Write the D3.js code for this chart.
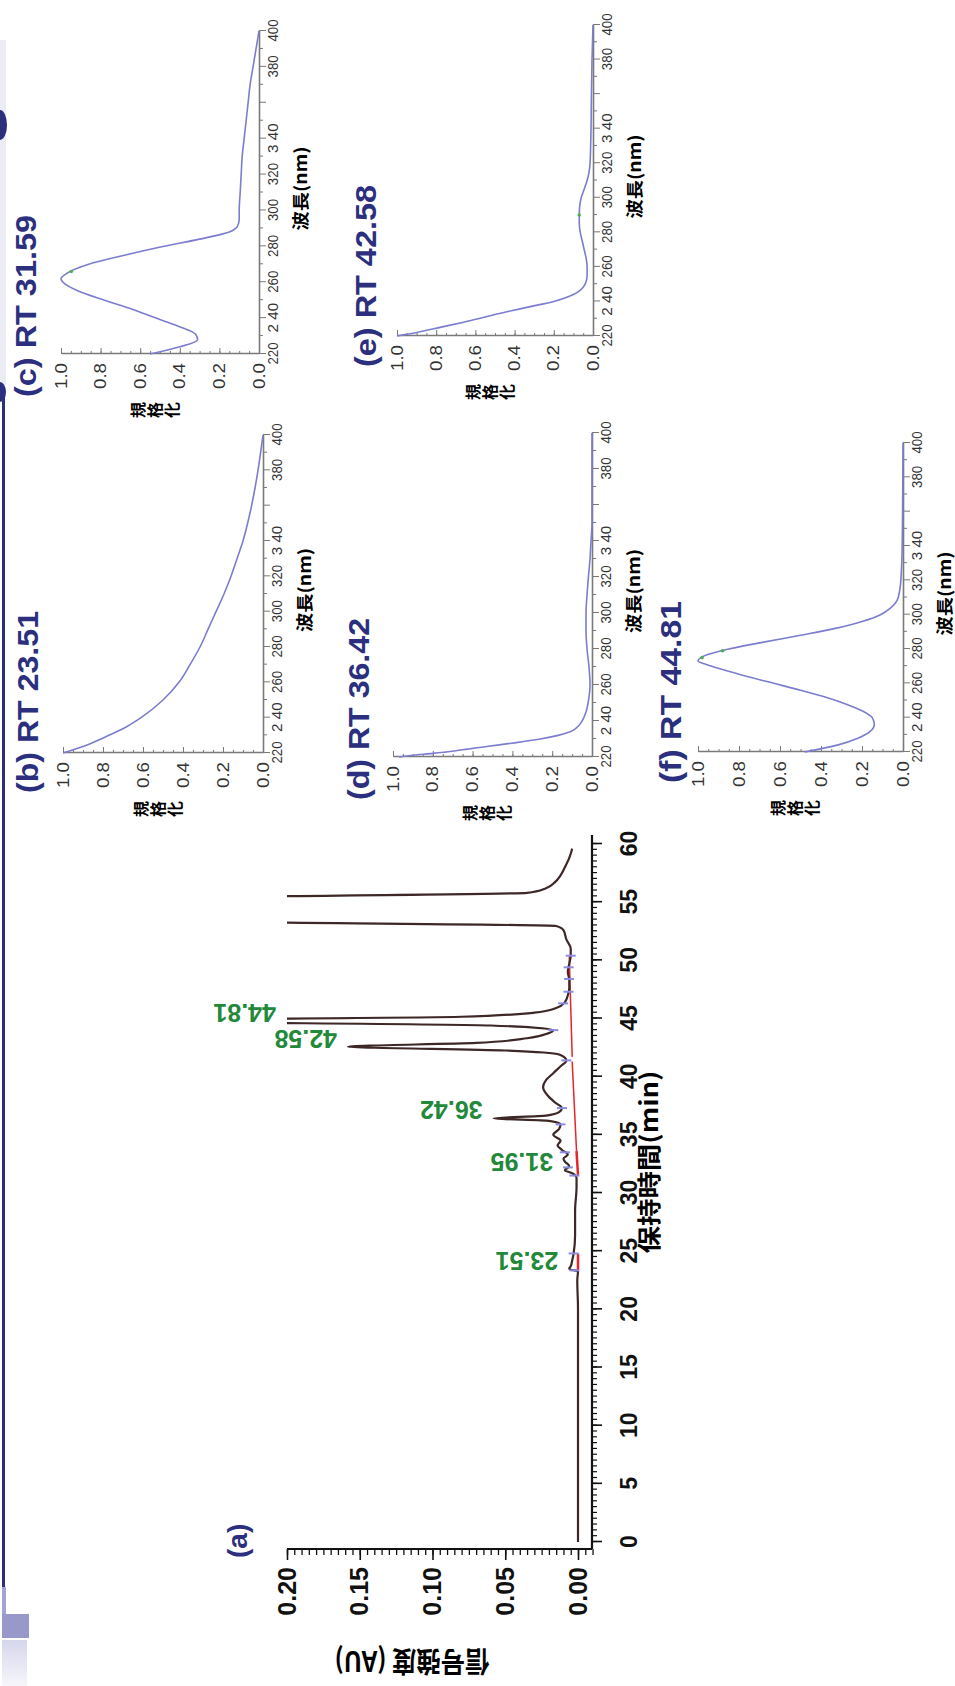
<!DOCTYPE html>
<html>
<head>
<meta charset="utf-8">
<script src="https://cdn.jsdelivr.net/npm/d3@7"></script>
<style>
body { margin: 0; background: #fff; }
svg { display: block; }
</style>
</head>
<body>
<svg id="fig" width="955" height="1686"></svg>
<script>
// chromatogram (a): retention time (min) and signal (AU)
var chromTime = [0, 5, 10, 15, 20, 22.5, 23.3, 23.4, 23.51, 23.7, 24.2, 24.8, 26.4, 28.5, 30.5, 31.3, 31.7, 31.95, 32.3, 32.7, 32.95, 33.3, 33.7, 34.1, 34.5, 35.0, 35.5, 35.9, 36.2, 36.42, 36.65, 36.95, 37.3, 37.8, 38.4, 39.1, 39.7, 40.3, 40.9, 41.4, 41.9, 42.25, 42.58, 42.9, 43.3, 43.7, 44.0, 44.4, 44.81, 45.15, 45.5, 45.9, 46.4, 47.0, 47.6, 48.3, 49.0, 49.7, 50.4, 51.0, 51.8, 52.6, 52.95, 53.3, 54.4, 55.45, 55.8, 56.2, 56.7, 57.3, 58.0, 58.8, 59.6];
var chromAU = [0, 0, 0, 0, 0, 0.0005, 0, 0.005, 0.006, 0.005, 0.004, 0.003, 0.002, 0.002, 0.001, 0.001, 0.004, 0.009, 0.006, 0.009, 0.010, 0.007, 0.011, 0.014, 0.012, 0.017, 0.013, 0.012, 0.020, 0.058, 0.022, 0.013, 0.011, 0.016, 0.021, 0.024, 0.022, 0.017, 0.012, 0.008, 0.013, 0.05, 0.158, 0.07, 0.035, 0.021, 0.017, 0.06, 0.32, 0.08, 0.03, 0.015, 0.009, 0.007, 0.006, 0.006, 0.007, 0.006, 0.005, 0.005, 0.008, 0.010, 0.015, 0.25, 0.9, 0.25, 0.035, 0.022, 0.016, 0.012, 0.009, 0.006, 0.004];

// labelled peaks
var peakTimes = [23.51, 31.95, 36.42, 42.58, 44.81];
var peakTops = [0.006, 0.0095, 0.058, 0.158, 0.2];
var peakNames = ["23.51", "31.95", "36.42", "42.58", "44.81"];

// integration marks
var markTimes = [23.35, 24.8, 31.5, 32.2, 33.5, 35.9, 37.3, 41.4, 44.0, 46.3, 47.3, 48.4, 49.4, 50.4];
var baseStart = [23.35, 31.5, 33.6, 41.7];
var baseEnd = [24.8, 33.6, 41.3, 50.3];
var baseStartAU = [0, 0, 0.001, 0.004];
var baseEndAU = [0, 0.001, 0.004, 0.006];

var timeTicks = d3.range(0, 61, 5);
var auTicks = [0, 0.05, 0.10, 0.15, 0.20];

// UV spectra (normalised) for the five peaks
var wlB = [220, 225, 230, 235, 240, 250, 260, 270, 280, 290, 300, 310, 320, 330, 340, 350, 360, 370, 380, 390, 400];
var absB = [1.0, 0.87, 0.77, 0.68, 0.61, 0.50, 0.42, 0.365, 0.315, 0.275, 0.235, 0.195, 0.16, 0.13, 0.10, 0.077, 0.057, 0.04, 0.025, 0.012, 0.0];
var wlC = [220, 224, 228, 231, 236, 240, 245, 250, 255, 260, 262, 265, 270, 275, 280, 284, 288, 291, 295, 300, 310, 320, 330, 340, 350, 360, 370, 380, 390, 400];
var absC = [0.55, 0.40, 0.31, 0.32, 0.42, 0.52, 0.64, 0.78, 0.91, 0.99, 1.0, 0.97, 0.86, 0.68, 0.48, 0.30, 0.15, 0.11, 0.10, 0.10, 0.095, 0.09, 0.085, 0.075, 0.065, 0.055, 0.045, 0.03, 0.015, 0.0];
var wlD = [220, 221, 222, 224, 226, 228, 230, 232, 234, 236, 240, 245, 250, 260, 270, 280, 290, 300, 310, 320, 330, 340, 350, 400];
var absD = [0.97, 0.9, 0.8, 0.65, 0.52, 0.38, 0.26, 0.17, 0.11, 0.08, 0.05, 0.03, 0.02, 0.01, 0.015, 0.025, 0.03, 0.03, 0.025, 0.018, 0.01, 0.005, 0.0, 0.0];
var wlE = [220, 222, 225, 228, 231, 234, 237, 240, 243, 246, 250, 255, 260, 265, 270, 275, 280, 285, 290, 295, 300, 305, 310, 315, 320, 330, 340, 360, 380, 400];
var absE = [1.0, 0.9, 0.78, 0.66, 0.55, 0.44, 0.32, 0.2, 0.12, 0.07, 0.04, 0.03, 0.03, 0.035, 0.045, 0.055, 0.065, 0.07, 0.07, 0.068, 0.06, 0.045, 0.03, 0.02, 0.015, 0.012, 0.01, 0.008, 0.005, 0.0];
var wlF = [220, 224, 228, 232, 236, 240, 244, 248, 252, 256, 260, 264, 268, 271, 273, 276, 280, 284, 288, 292, 296, 300, 304, 308, 315, 325, 340, 360, 400];
var absF = [0.48, 0.32, 0.22, 0.16, 0.14, 0.15, 0.2, 0.28, 0.38, 0.5, 0.63, 0.76, 0.88, 0.96, 1.0, 0.97, 0.85, 0.68, 0.5, 0.33, 0.2, 0.11, 0.06, 0.03, 0.015, 0.008, 0.004, 0.002, 0.0];

var wlTicks = [220, 240, 260, 280, 300, 320, 340, 360, 380, 400];
var wlTickText = ["220", "2 40", "260", "280", "300", "320", "3 40", "", "380", "400"];
var normTicks = [0, 0.2, 0.4, 0.6, 0.8, 1.0];

var LAT = "'Liberation Sans', Arial, sans-serif";
var CJK = "'Noto Sans CJK JP', 'Noto Sans CJK SC', sans-serif";
var NAVY = "#2b2f7e";

var W = 1686; // width of the figure before it was turned
var svg = d3.select("#fig");

// page edge decoration (drawn in page coordinates)
svg.append("rect").attr("x", 0).attr("y", 40).attr("width", 6).attr("height", 345).attr("fill", "#ececf5");
svg.append("ellipse").attr("cx", 0).attr("cy", 125).attr("rx", 7).attr("ry", 15).attr("fill", NAVY);
svg.append("ellipse").attr("cx", 0).attr("cy", 392).attr("rx", 6).attr("ry", 10).attr("fill", NAVY);
svg.append("rect").attr("x", 2).attr("y", 395).attr("width", 3).attr("height", 1192).attr("fill", "#2e2e7e");
svg.append("rect").attr("x", 2).attr("y", 1587).attr("width", 4).attr("height", 27).attr("fill", "#a4a4d2");
svg.append("rect").attr("x", 2).attr("y", 1614).attr("width", 27).attr("height", 24).attr("fill", "#9898cb");
var grad = svg.append("defs").append("linearGradient").attr("id", "edge").attr("x1", 0).attr("y1", 0).attr("x2", 0).attr("y2", 1);
grad.append("stop").attr("offset", "0%").attr("stop-color", "#d6d6ec");
grad.append("stop").attr("offset", "100%").attr("stop-color", "#f6f6fb");
svg.append("rect").attr("x", 2).attr("y", 1640).attr("width", 25).attr("height", 46).attr("fill", "url(#edge)");

// everything else is drawn upright and turned a quarter turn
var fig = svg.append("g").attr("transform", "translate(0," + W + ") rotate(-90)");

// ---------- (a) chromatogram ----------
var xA = d3.scaleLinear().domain([0, 60]).range([144, 842]);
var yA = d3.scaleLinear().domain([0, 0.2]).range([578, 287]);

svg.select("defs").append("clipPath").attr("id", "clipA")
    .append("rect").attr("x", 137).attr("y", yA(0.2)).attr("width", 714).attr("height", 592 - yA(0.2));

var gA = fig.append("g");

// intensity axis
var yAxis = gA.append("g").attr("transform", "translate(137,0)")
    .call(d3.axisLeft(yA).tickValues(auTicks).tickSize(11).tickPadding(7).tickFormat(d3.format(".2f")));
yAxis.select(".domain").remove();
yAxis.selectAll("line").attr("stroke", "#111").attr("stroke-width", 1.6);
yAxis.selectAll("text").attr("font-family", LAT).attr("font-size", 25).attr("font-weight", "bold").attr("fill", "#111");
var yMinor = gA.append("g").attr("transform", "translate(137,0)")
    .call(d3.axisLeft(yA).tickValues(d3.range(-0.01, 0.2001, 0.005)).tickSize(6).tickFormat(""));
yMinor.select(".domain").remove();
yMinor.selectAll("line").attr("stroke", "#111").attr("stroke-width", 1.3);
gA.append("line").attr("x1", 137).attr("x2", 137).attr("y1", yA(0.2)).attr("y2", 592)
    .attr("stroke", "#111").attr("stroke-width", 2.2);

// time axis
var xAxis = gA.append("g").attr("transform", "translate(0,592)")
    .call(d3.axisBottom(xA).tickValues(timeTicks).tickSize(10).tickPadding(19));
xAxis.select(".domain").remove();
xAxis.selectAll("line").attr("stroke", "#111").attr("stroke-width", 1.6);
xAxis.selectAll("text").attr("font-family", LAT).attr("font-size", 23).attr("font-weight", "bold").attr("fill", "#111");
var xMinor = gA.append("g").attr("transform", "translate(0,592)")
    .call(d3.axisBottom(xA).tickValues(d3.range(0, 60.01, 0.5)).tickSize(5).tickFormat(""));
xMinor.select(".domain").remove();
xMinor.selectAll("line").attr("stroke", "#111").attr("stroke-width", 1.2);
gA.append("line").attr("x1", 137).attr("x2", 851).attr("y1", 592).attr("y2", 592)
    .attr("stroke", "#111").attr("stroke-width", 2.2);

// axis titles
gA.append("text").attr("x", 524).attr("y", 658).attr("text-anchor", "middle")
    .attr("font-family", CJK).attr("font-size", 24).attr("font-weight", "bold")
    .attr("textLength", 183).attr("lengthAdjust", "spacingAndGlyphs")
    .text("保持時間(min)");
gA.append("text").attr("transform", "translate(35,412) rotate(-90)").attr("text-anchor", "middle")
    .attr("font-family", CJK).attr("font-size", 28).attr("font-weight", "bold")
    .attr("textLength", 155).attr("lengthAdjust", "spacingAndGlyphs")
    .text("信号強度 (AU)");
gA.append("text").attr("x", 128).attr("y", 247)
    .attr("font-family", LAT).attr("font-size", 28).attr("font-weight", "bold").attr("fill", NAVY)
    .text("(a)");

// red integration baselines
gA.selectAll("line.base").data(d3.range(baseStart.length)).enter().append("line")
    .attr("class", "base")
    .attr("x1", function (i) { return xA(baseStart[i]); })
    .attr("x2", function (i) { return xA(baseEnd[i]); })
    .attr("y1", function (i) { return yA(baseStartAU[i]); })
    .attr("y2", function (i) { return yA(baseEndAU[i]); })
    .attr("stroke", "#e5262b").attr("stroke-width", function (i) { return i < 2 ? 2.5 : 1.5; });

// trace
var chrom = d3.zip(chromTime, chromAU);
var lineA = d3.line().x(function (d) { return xA(d[0]); }).y(function (d) { return yA(d[1]); })
    .curve(d3.curveMonotoneX);
gA.append("path").datum(chrom).attr("d", lineA).attr("clip-path", "url(#clipA)")
    .attr("fill", "none").attr("stroke", "#3d2727").attr("stroke-width", 2.2).attr("stroke-linejoin", "round");

// peak start / end marks
function auAt(t) {
    var i = d3.bisectLeft(chromTime, t);
    if (i <= 0) return chromAU[0];
    var t0 = chromTime[i - 1], t1 = chromTime[i];
    return chromAU[i - 1] + (chromAU[i] - chromAU[i - 1]) * (t - t0) / (t1 - t0);
}
gA.selectAll("line.mark").data(markTimes).enter().append("line")
    .attr("class", "mark")
    .attr("x1", function (d) { return xA(d); }).attr("x2", function (d) { return xA(d); })
    .attr("y1", function (d) { return yA(auAt(d)) - 5; })
    .attr("y2", function (d) { return yA(auAt(d)) + 5; })
    .attr("stroke", "#8b8be4").attr("stroke-width", 2);

// peak labels
gA.selectAll("text.peak").data(d3.range(peakTimes.length)).enter().append("text")
    .attr("class", "peak")
    .attr("transform", function (i) {
        return "translate(" + (xA(peakTimes[i]) + 17) + "," + (yA(peakTops[i]) - 11) + ") rotate(-90)";
    })
    .attr("font-family", LAT).attr("font-size", 25).attr("font-weight", "bold").attr("fill", "#23893a")
    .text(function (i) { return peakNames[i]; });

// ---------- (b)-(f) spectra ----------
var panels = [
    { title: "(b) RT 23.51", wl: wlB, ab: absB, u0: 933, u1: 1251, vAxis: 263, vTop: 63, tu: 893, tv: 38, greens: [] },
    { title: "(c) RT 31.59", wl: wlC, ab: absC, u0: 1332, u1: 1655, vAxis: 259, vTop: 61, tu: 1289, tv: 36, greens: [266] },
    { title: "(d) RT 36.42", wl: wlD, ab: absD, u0: 929, u1: 1253, vAxis: 592, vTop: 393, tu: 886, tv: 369, greens: [] },
    { title: "(e) RT 42.58", wl: wlE, ab: absE, u0: 1350, u1: 1661, vAxis: 593, vTop: 397, tu: 1319, tv: 376, greens: [290] },
    { title: "(f) RT 44.81", wl: wlF, ab: absF, u0: 934, u1: 1243, vAxis: 903, vTop: 698, tu: 903, tv: 681, greens: [275, 279] }
];

panels.forEach(function (p) {
    var g = fig.append("g");
    var x = d3.scaleLinear().domain([220, 400]).range([p.u0, p.u1]);
    var y = d3.scaleLinear().domain([0, 1]).range([p.vAxis, p.vTop]);

    // wavelength axis
    var ax = g.append("g").attr("transform", "translate(0," + p.vAxis + ")")
        .call(d3.axisBottom(x).tickValues(wlTicks).tickSize(7).tickPadding(1).tickSizeOuter(0)
            .tickFormat(function (d, i) { return wlTickText[i]; }));
    ax.select(".domain").attr("stroke", "#7a7a7a").attr("stroke-width", 1.6);
    ax.selectAll("line").attr("stroke", "#7a7a7a");
    ax.selectAll("text").attr("font-family", LAT).attr("font-size", 15).attr("fill", "#333")
        .attr("textLength", function (d, i) { return wlTickText[i].length * 7.4; })
        .attr("lengthAdjust", "spacingAndGlyphs");
    var axm = g.append("g").attr("transform", "translate(0," + p.vAxis + ")")
        .call(d3.axisBottom(x).tickValues(d3.range(230, 400, 20)).tickSize(4).tickFormat(""));
    axm.select(".domain").remove();
    axm.selectAll("line").attr("stroke", "#7a7a7a");

    // normalised axis
    var ay = g.append("g").attr("transform", "translate(" + p.u0 + ",0)")
        .call(d3.axisLeft(y).tickValues(normTicks).tickSizeInner(-6).tickSizeOuter(0).tickPadding(9)
            .tickFormat(d3.format(".1f")));
    ay.select(".domain").attr("stroke", "#7a7a7a").attr("stroke-width", 1.6);
    ay.selectAll("line").attr("stroke", "#7a7a7a");
    ay.selectAll("text").attr("font-family", LAT).attr("font-size", 16).attr("fill", "#333")
        .attr("textLength", 26).attr("lengthAdjust", "spacingAndGlyphs");
    var aym = g.append("g").attr("transform", "translate(" + p.u0 + ",0)")
        .call(d3.axisLeft(y).tickValues(d3.range(0.05, 1, 0.05)).tickSize(-3).tickFormat(""));
    aym.select(".domain").remove();
    aym.selectAll("line").attr("stroke", "#7a7a7a");

    // titles
    g.append("text").attr("x", (p.u0 + p.u1) / 2 + 4).attr("y", p.vAxis + 48).attr("text-anchor", "middle")
        .attr("font-family", CJK).attr("font-size", 17).attr("font-weight", "bold")
        .attr("textLength", 84).attr("lengthAdjust", "spacingAndGlyphs")
        .text("波長(nm)");
    var mid = (p.vAxis + p.vTop) / 2 - 5;
    g.selectAll("text.ylab").data(["規", "格", "化"]).enter().append("text")
        .attr("class", "ylab")
        .attr("x", p.u0 - 56).attr("y", function (d, i) { return mid + (i - 1) * 17; })
        .attr("dy", "0.35em").attr("text-anchor", "middle")
        .attr("font-family", CJK).attr("font-size", 16).attr("font-weight", "bold")
        .text(function (d) { return d; });
    g.append("text").attr("x", p.tu).attr("y", p.tv)
        .attr("font-family", LAT).attr("font-size", 30).attr("font-weight", "bold").attr("fill", NAVY)
        .attr("textLength", 182).attr("lengthAdjust", "spacingAndGlyphs")
        .text(p.title);

    // spectrum
    var line = d3.line().x(function (d) { return x(d[0]); }).y(function (d) { return y(d[1]); })
        .curve(d3.curveMonotoneX);
    var pts = d3.zip(p.wl, p.ab);
    g.append("path").datum(pts).attr("d", line)
        .attr("fill", "none").attr("stroke", "#7c7cd0").attr("stroke-width", 1.6);

    var lin = d3.scaleLinear().domain(p.wl).range(p.ab);
    g.selectAll("circle").data(p.greens).enter().append("circle")
        .attr("cx", function (d) { return x(d); })
        .attr("cy", function (d) { return y(lin(d)); })
        .attr("r", 1.8).attr("fill", "#4cb050");
});
</script>
</body>
</html>
